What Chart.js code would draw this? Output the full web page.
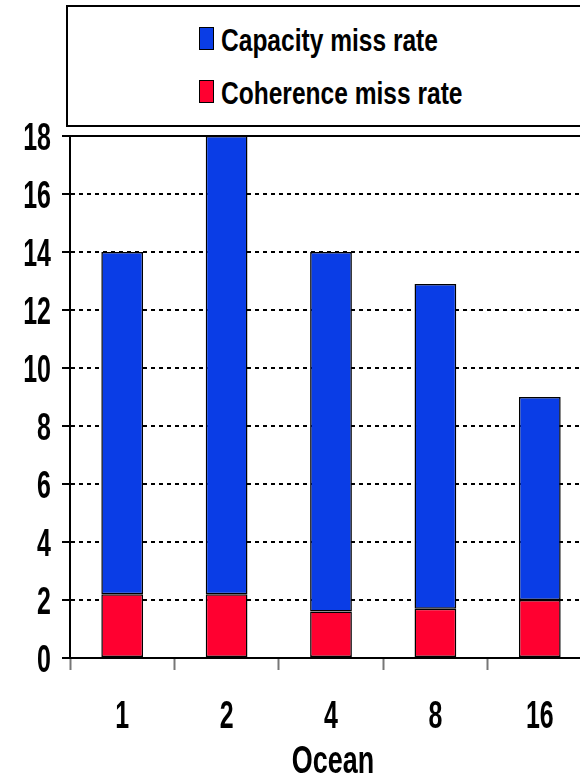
<!DOCTYPE html>
<html>
<head>
<meta charset="utf-8">
<script src="https://cdn.jsdelivr.net/npm/chart.js@4/dist/chart.umd.min.js"></script>
<style>
  html, body { margin: 0; padding: 0; overflow: hidden; background: #fff; }
  #wrap { position: relative; width: 600px; height: 778px; }
  #legend { position: absolute; left: 66px; top: 5px; width: 560px; height: 118px;
            border: 2px solid #000; background: #fff; }
  .sw { position: absolute; width: 13px; height: 21px; border: 1.5px solid #000; }
  .lt { position: absolute; white-space: nowrap; font-family: 'Liberation Sans', Arial, sans-serif;
        font-weight: bold; font-size: 32px; line-height: 32px; color: #000;
        transform: scaleX(0.767); transform-origin: 0 0; }
</style>
</head>
<body>
<div id="wrap">
  <canvas id="c"></canvas>
  <div id="legend"></div>
</div>
<script>
const categories = ['1', '2', '4', '8', '16'];
const coherenceMissRate = [2.2, 2.2, 1.6, 1.7, 2.0];
const capacityMissRate = [11.8, 15.8, 12.4, 11.2, 7.0];
const seriesNames = ['Capacity miss rate', 'Coherence miss rate'];
const xAxisTitle = 'Ocean';
const yTicksMax = 18;
const yTickStep = 2;

const BLUE = '#0a3de6';
const RED = '#ff0030';
const FONT = "'Liberation Sans', Arial, sans-serif";

// HTML legend (coordinates relative to the legend box)
const legend = document.getElementById('legend');
[[seriesNames[0], BLUE, 0], [seriesNames[1], RED, 53]].forEach(([name, col, dy]) => {
  const s = document.createElement('div');
  s.className = 'sw';
  s.style.left = '131px';
  s.style.top = (20 + dy) + 'px';
  s.style.background = col;
  const t = document.createElement('div');
  t.className = 'lt';
  t.style.left = '153px';
  t.style.top = (17 + dy) + 'px';
  t.textContent = name;
  legend.appendChild(s);
  legend.appendChild(t);
});

function squeezed(ctx, text, x, y, size, sx, align) {
  ctx.save();
  ctx.font = `bold ${size}px ${FONT}`;
  ctx.fillStyle = '#000';
  ctx.textAlign = align;
  ctx.textBaseline = 'alphabetic';
  ctx.translate(x, y);
  ctx.scale(sx, 1);
  ctx.fillText(text, 0, 0);
  ctx.restore();
}

const decor = {
  id: 'decor',
  afterDatasetsDraw(chart) {
    const y = chart.scales.y.getPixelForValue(yTicksMax);
    const ctx = chart.ctx;
    ctx.save();
    ctx.strokeStyle = '#000';
    ctx.lineWidth = 2;
    ctx.beginPath();
    ctx.moveTo(chart.chartArea.left - 8, y);
    ctx.lineTo(chart.chartArea.right, y);
    ctx.stroke();
    ctx.restore();
  },
  afterDraw(chart) {
    const ctx = chart.ctx;
    const area = chart.chartArea;
    const ys = chart.scales.y;
    ys.ticks.forEach((t, i) => {
      squeezed(ctx, String(t.value), area.left - 19, ys.getPixelForTick(i) + 14, 39, 0.64, 'right');
    });
    const xs = chart.scales.x;
    xs.ticks.forEach((t, i) => {
      squeezed(ctx, categories[i], xs.getPixelForTick(i), area.bottom + 70, 39, 0.64, 'center');
    });
    squeezed(ctx, xAxisTitle, (area.left + area.right) / 2 + 2, area.bottom + 115, 39, 0.69, 'center');
  }
};

new Chart(document.getElementById('c'), {
  type: 'bar',
  data: {
    labels: categories,
    datasets: [
      { label: seriesNames[1], data: coherenceMissRate, backgroundColor: RED,
        borderColor: '#000', borderWidth: 1.5, borderSkipped: false,
        barPercentage: 0.4, categoryPercentage: 1.0 },
      { label: seriesNames[0], data: capacityMissRate, backgroundColor: BLUE,
        borderColor: '#000', borderWidth: 1.5, borderSkipped: false,
        barPercentage: 0.4, categoryPercentage: 1.0 }
    ]
  },
  options: {
    responsive: true,
    maintainAspectRatio: false,
    animation: false,
    devicePixelRatio: 1,
    layout: { padding: { top: 136, right: 8, left: 0, bottom: 0 } },
    plugins: { legend: { display: false }, tooltip: { enabled: false }, title: { display: false } },
    scales: {
      x: {
        stacked: true,
        grid: { display: true, drawOnChartArea: false, drawTicks: true, tickLength: 12,
                tickColor: '#777', tickWidth: 2, offset: true },
        border: { display: true, color: '#000', width: 2 },
        ticks: { display: false },
        title: { display: false, text: xAxisTitle },
        afterFit(scale) { scale.height = 120; }
      },
      y: {
        stacked: true,
        min: 0, max: yTicksMax,
        grid: {
          drawOnChartArea: true, drawTicks: true, tickLength: 8, tickWidth: 2, tickColor: '#000',
          lineWidth: 2,
          color: (ctx) => (ctx.tick && (ctx.tick.value === 0 || ctx.tick.value === yTicksMax)) ? 'rgba(0,0,0,0)' : '#000'
        },
        border: { display: true, color: '#000', width: 2, dash: [4, 4] },
        ticks: { display: false, stepSize: yTickStep },
        afterFit(scale) { scale.width = 70; }
      }
    }
  },
  plugins: [decor]
});
</script>
</body>
</html>
